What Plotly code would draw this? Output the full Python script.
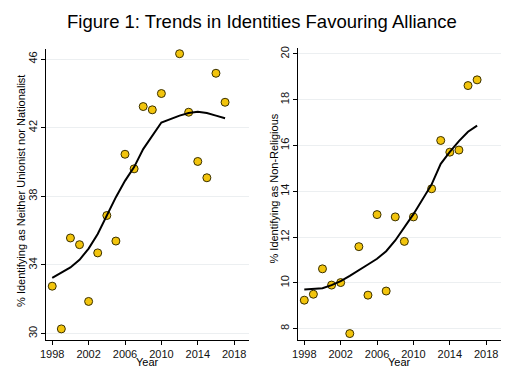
import plotly.graph_objects as go

years = [1998, 1999, 2000, 2001, 2002, 2003, 2004, 2005, 2006, 2007, 2008, 2009, 2010,
         2012, 2013, 2014, 2015, 2016, 2017]

neither = [32.76, 30.27, 35.57, 35.18, 31.87, 34.70, 36.88, 35.39, 40.45, 39.60, 43.23,
           43.04, 43.99, 46.31, 42.90, 40.03, 39.08, 45.17, 43.48]
neither_fit = [33.25, 33.55, 33.85, 34.3, 34.95, 35.8, 36.85, 37.95, 38.9, 39.7, 40.75,
               41.5, 42.3, 42.7, 42.85, 42.93, 42.85, 42.7, 42.55]

nonrel = [9.24, 9.50, 10.61, 9.90, 10.01, 7.78, 11.58, 9.46, 12.98, 9.64, 12.88, 11.81,
          12.88, 14.11, 16.22, 15.71, 15.80, 18.62, 18.87]
nonrel_fit = [9.71, 9.73, 9.76, 9.9, 10.07, 10.3, 10.57, 10.8, 11.05, 11.38, 11.85, 12.4,
              13.0, 14.3, 15.2, 15.72, 16.19, 16.6, 16.87]

x_ticks = [1998, 2002, 2006, 2010, 2014, 2018]
left_ticks = [30, 34, 38, 42, 46]
right_ticks = [8, 10, 12, 14, 16, 18, 20]

title_text = "Figure 1: Trends in Identities Favouring Alliance"
left_ylabel = "% Identifying as Neither Unionist nor Nationalist"
right_ylabel = "% Identifying as Non-Religious"
xlabel = "Year"

W, H = 520, 376
OFF = 8  # page body margin offset


def px(x):
    return (x - OFF) / W


def py(y):
    return 1 - (y - OFF) / H


FONT = "Liberation Sans, Arial, sans-serif"
marker = dict(size=8, color="#F2C40C", line=dict(color="#3a3000", width=1))

fig = go.Figure()
fig.add_trace(go.Scatter(x=years, y=neither, mode="markers", marker=marker,
                         xaxis="x", yaxis="y", showlegend=False))
fig.add_trace(go.Scatter(x=years, y=neither_fit, mode="lines",
                         line=dict(color="black", width=2), xaxis="x", yaxis="y",
                         showlegend=False))
fig.add_trace(go.Scatter(x=years, y=nonrel, mode="markers", marker=marker,
                         xaxis="x2", yaxis="y2", showlegend=False))
fig.add_trace(go.Scatter(x=years, y=nonrel_fit, mode="lines",
                         line=dict(color="black", width=2), xaxis="x2", yaxis="y2",
                         showlegend=False))

xcommon = dict(tickvals=x_ticks, showgrid=False, zeroline=False, showline=True,
               linecolor="black", linewidth=1, ticks="outside", ticklen=4,
               tickcolor="black", tickfont=dict(size=11, color="#111"),
               range=[1997.35, 2019.66])
ycommon = dict(showgrid=True, gridcolor="#eceff1", gridwidth=1, zeroline=False,
               showline=True, linecolor="black", linewidth=1, ticks="outside",
               ticklen=4, tickcolor="black", tickangle=-90,
               tickfont=dict(size=11, color="#111"))

annots = [
    dict(text=title_text, x=px(259), y=py(20), font=dict(size=18.5, color="black")),
    dict(text=xlabel, x=px(143.5), y=py(362), font=dict(size=11)),
    dict(text=xlabel, x=px(398.5), y=py(362), font=dict(size=11)),
    dict(text=left_ylabel, x=px(15), y=py(190), textangle=-90, font=dict(size=11)),
    dict(text=right_ylabel, x=px(271.5), y=py(187), textangle=-90, font=dict(size=11)),
]
for a in annots:
    a.update(xref="paper", yref="paper", showarrow=False, xanchor="center",
             yanchor="middle")

fig.update_layout(
    width=W, height=H,
    margin=dict(l=0, r=0, t=0, b=0),
    paper_bgcolor="white", plot_bgcolor="white",
    font=dict(family=FONT, color="black"),
    xaxis=dict(domain=[px(40.7), px(246)], anchor="y", **xcommon),
    yaxis=dict(domain=[py(339.3), py(47.3)], anchor="x", range=[29.65, 46.58],
               tickvals=left_ticks, **ycommon),
    xaxis2=dict(domain=[px(295.7), px(501)], anchor="y2", **xcommon),
    yaxis2=dict(domain=[py(339.3), py(46.7)], anchor="x2", range=[7.52, 20.24],
                tickvals=right_ticks, **ycommon),
    annotations=annots,
)

fig.write_html("out.html")
